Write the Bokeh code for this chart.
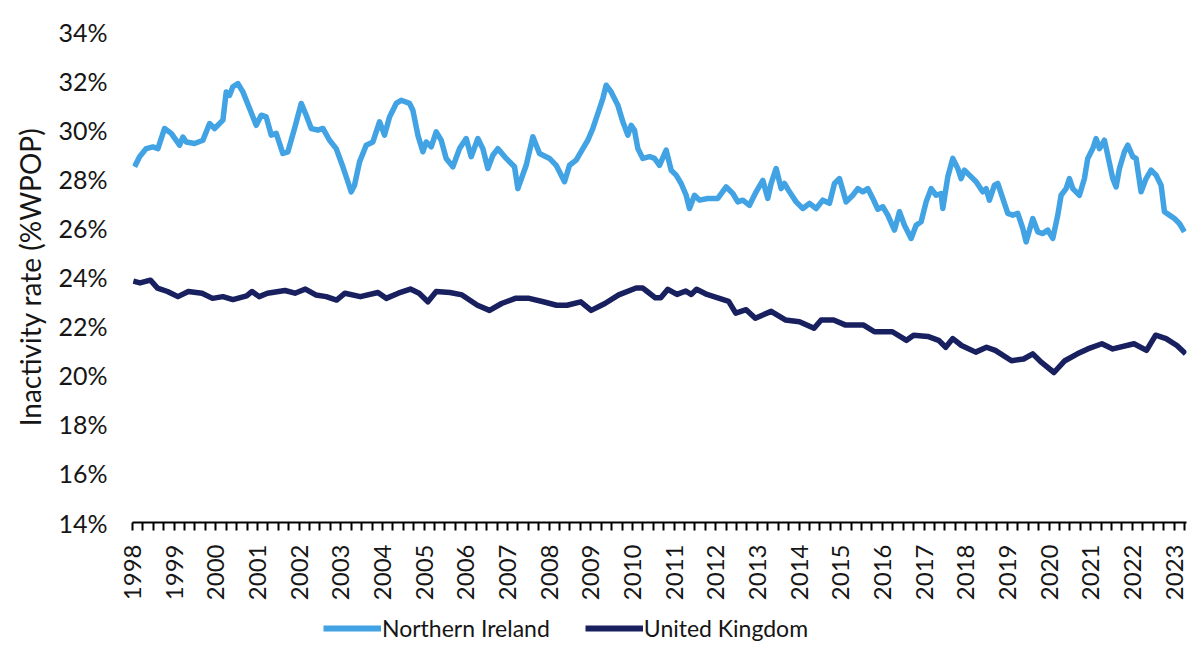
import math
from bokeh.plotting import figure
from bokeh.layouts import column
from bokeh.models import (Range1d, FixedTicker, PrintfTickFormatter, Legend, LegendItem)
from bokeh.embed import file_html
from bokeh.resources import INLINE

# ---- data ----
years = list(range(1998, 2024))
y_ticks = list(range(14, 35, 2))

ni_year = [1998.05, 1998.17, 1998.33, 1998.49, 1998.61, 1998.77, 1998.93, 1999.13, 1999.21, 1999.29,
           1999.49, 1999.69, 1999.85, 1999.97, 2000.17, 2000.25, 2000.33, 2000.41, 2000.53, 2000.65,
           2000.81, 2000.97, 2001.09, 2001.21, 2001.33, 2001.45, 2001.61, 2001.73, 2001.89, 2002.05,
           2002.17, 2002.29, 2002.45, 2002.57, 2002.73, 2002.89, 2003.05, 2003.17, 2003.25, 2003.33,
           2003.45, 2003.61, 2003.77, 2003.93, 2004.05, 2004.17, 2004.33, 2004.45, 2004.65, 2004.73,
           2004.85, 2004.97, 2005.05, 2005.17, 2005.29, 2005.41, 2005.53, 2005.69, 2005.85, 2006.01,
           2006.13, 2006.29, 2006.41, 2006.53, 2006.65, 2006.77, 2006.97, 2007.17, 2007.25, 2007.45,
           2007.61, 2007.77, 2008.01, 2008.17, 2008.37, 2008.49, 2008.65, 2008.81, 2008.93, 2009.05,
           2009.17, 2009.29, 2009.37, 2009.49, 2009.65, 2009.77, 2009.89, 2009.97, 2010.05, 2010.13,
           2010.25, 2010.41, 2010.53, 2010.65, 2010.81, 2010.93, 2011.05, 2011.17, 2011.29, 2011.37,
           2011.49, 2011.61, 2011.81, 2012.05, 2012.25, 2012.41, 2012.53, 2012.65, 2012.81, 2012.97,
           2013.13, 2013.25, 2013.33, 2013.45, 2013.57, 2013.65, 2013.77, 2013.93, 2014.09, 2014.25,
           2014.41, 2014.57, 2014.73, 2014.85, 2014.97, 2015.13, 2015.29, 2015.41, 2015.53, 2015.65,
           2015.77, 2015.89, 2016.01, 2016.13, 2016.29, 2016.41, 2016.53, 2016.69, 2016.81, 2016.93,
           2017.05, 2017.17, 2017.29, 2017.41, 2017.45, 2017.57, 2017.69, 2017.81, 2017.89, 2017.97,
           2018.09, 2018.25, 2018.41, 2018.49, 2018.57, 2018.69, 2018.77, 2018.89, 2019.01, 2019.13,
           2019.25, 2019.37, 2019.45, 2019.61, 2019.73, 2019.85, 2019.97, 2020.09, 2020.21, 2020.29,
           2020.41, 2020.49, 2020.57, 2020.73, 2020.85, 2020.93, 2021.05, 2021.13, 2021.21, 2021.33,
           2021.41, 2021.53, 2021.61, 2021.69, 2021.81, 2021.89, 2022.01, 2022.09, 2022.21, 2022.33,
           2022.45, 2022.57, 2022.69, 2022.77, 2022.89, 2023.01, 2023.13, 2023.25]
ni_rate = [28.49, 28.90, 29.23, 29.30, 29.23, 30.05, 29.85, 29.37, 29.70, 29.50,
           29.44, 29.57, 30.25, 30.05, 30.39, 31.54, 31.40, 31.75, 31.88, 31.54,
           30.86, 30.18, 30.59, 30.52, 29.78, 29.85, 29.03, 29.10, 30.05, 31.07,
           30.59, 30.05, 29.98, 30.05, 29.57, 29.23, 28.49, 27.88, 27.47, 27.74,
           28.69, 29.37, 29.50, 30.32, 29.78, 30.52, 31.07, 31.20, 31.07, 30.79,
           29.78, 29.10, 29.50, 29.30, 29.91, 29.57, 28.83, 28.49, 29.23, 29.64,
           28.90, 29.64, 29.23, 28.42, 28.96, 29.23, 28.83, 28.49, 27.60, 28.55,
           29.71, 29.03, 28.83, 28.55, 27.88, 28.55, 28.76, 29.23, 29.57, 30.05,
           30.66, 31.27, 31.81, 31.54, 31.00, 30.32, 29.78, 30.18, 29.98, 29.23,
           28.83, 28.90, 28.83, 28.55, 29.17, 28.35, 28.15, 27.81, 27.33, 26.79,
           27.33, 27.13, 27.20, 27.20, 27.67, 27.40, 27.06, 27.13, 26.92, 27.47,
           27.94, 27.20, 27.81, 28.42, 27.60, 27.81, 27.47, 27.06, 26.79, 27.00,
           26.79, 27.13, 27.00, 27.81, 28.01, 27.06, 27.33, 27.60, 27.47, 27.60,
           27.20, 26.76, 26.86, 26.52, 25.91, 26.66, 26.11, 25.57, 26.11, 26.25,
           27.06, 27.60, 27.33, 27.40, 26.79, 28.08, 28.83, 28.42, 28.01, 28.35,
           28.15, 27.88, 27.47, 27.60, 27.13, 27.74, 27.81, 27.20, 26.59, 26.52,
           26.59, 25.98, 25.43, 26.38, 25.84, 25.77, 25.91, 25.57, 26.52, 27.33,
           27.60, 28.01, 27.60, 27.33, 28.01, 28.83, 29.23, 29.64, 29.23, 29.57,
           28.96, 28.01, 27.67, 28.42, 29.10, 29.37, 28.90, 28.83, 27.47, 28.01,
           28.35, 28.15, 27.74, 26.66, 26.52, 26.38, 26.18, 25.84]

uk_year = [1998.02, 1998.18, 1998.43, 1998.60, 1998.84, 1999.09, 1999.34, 1999.67, 1999.92, 2000.17,
           2000.41, 2000.74, 2000.87, 2001.04, 2001.24, 2001.66, 2001.90, 2002.15, 2002.40, 2002.65,
           2002.90, 2003.10, 2003.47, 2003.89, 2004.09, 2004.38, 2004.67, 2004.88, 2005.09, 2005.29,
           2005.62, 2005.91, 2006.28, 2006.57, 2006.86, 2007.19, 2007.52, 2007.86, 2008.18, 2008.43,
           2008.76, 2009.01, 2009.34, 2009.67, 2010.09, 2010.25, 2010.34, 2010.55, 2010.68, 2010.85,
           2011.07, 2011.28, 2011.41, 2011.54, 2011.79, 2012.05, 2012.31, 2012.48, 2012.73, 2012.95,
           2013.33, 2013.67, 2014.01, 2014.36, 2014.53, 2014.83, 2015.12, 2015.55, 2015.81, 2016.24,
           2016.58, 2016.75, 2017.09, 2017.35, 2017.52, 2017.69, 2017.90, 2018.24, 2018.50, 2018.71,
           2019.10, 2019.39, 2019.61, 2019.82, 2020.12, 2020.38, 2020.68, 2020.93, 2021.27, 2021.53,
           2022.04, 2022.34, 2022.56, 2022.81, 2023.07, 2023.28]
uk_rate = [23.83, 23.76, 23.87, 23.55, 23.41, 23.20, 23.41, 23.34, 23.13, 23.20,
           23.08, 23.23, 23.41, 23.20, 23.34, 23.45, 23.34, 23.51, 23.27, 23.20,
           23.06, 23.34, 23.20, 23.37, 23.13, 23.34, 23.51, 23.34, 22.99, 23.41,
           23.37, 23.27, 22.85, 22.64, 22.92, 23.13, 23.13, 22.99, 22.85, 22.85,
           22.99, 22.64, 22.92, 23.27, 23.55, 23.55, 23.43, 23.15, 23.15, 23.50,
           23.29, 23.43, 23.29, 23.50, 23.29, 23.15, 23.01, 22.53, 22.67, 22.32,
           22.60, 22.25, 22.18, 21.91, 22.25, 22.25, 22.04, 22.04, 21.77, 21.77,
           21.42, 21.63, 21.58, 21.42, 21.14, 21.49, 21.21, 20.94, 21.14, 21.01,
           20.59, 20.66, 20.87, 20.52, 20.11, 20.59, 20.87, 21.07, 21.28, 21.07,
           21.28, 21.01, 21.63, 21.49, 21.21, 20.87]

series_names = ["Northern Ireland", "United Kingdom"]
series_colors = ["#41A2E4", "#18205F"]

FONT = "Lato"
TXT = "#161616"

p = figure(width=1190, height=610, output_backend="svg", toolbar_location=None,
           x_range=Range1d(1998.0, 2023.3), y_range=Range1d(14, 34),
           min_border_left=132, min_border_right=4, min_border_top=31, min_border_bottom=88)
p.outline_line_color = None
p.xgrid.visible = False
p.ygrid.visible = False
p.background_fill_color = "white"
p.border_fill_color = "white"

r_ni = p.line(ni_year, ni_rate, line_color=series_colors[0], line_width=5.5, line_join="round")
r_uk = p.line(uk_year, uk_rate, line_color=series_colors[1], line_width=5.5, line_join="round")

# x axis
minor = [y + q / 4 for y in range(1998, 2024) for q in range(1, 4)]
p.xaxis.ticker = FixedTicker(ticks=years, minor_ticks=minor)
p.xaxis.formatter = PrintfTickFormatter(format="%d")
p.xaxis.major_label_orientation = math.pi / 2
p.xaxis.axis_line_color = "black"
p.xaxis.axis_line_width = 2
p.xaxis.major_tick_line_color = "black"
p.xaxis.minor_tick_line_color = "black"
p.xaxis.major_tick_line_width = 2
p.xaxis.minor_tick_line_width = 2
p.xaxis.major_tick_in = 0
p.xaxis.major_tick_out = 8
p.xaxis.minor_tick_in = 0
p.xaxis.minor_tick_out = 8
p.xaxis.major_label_standoff = 14
p.xaxis.major_label_text_font = FONT
p.xaxis.major_label_text_font_size = "24px"
p.xaxis.major_label_text_color = TXT

# y axis
p.yaxis.ticker = FixedTicker(ticks=y_ticks, minor_ticks=[])
p.yaxis.formatter = PrintfTickFormatter(format="%d%%")
p.yaxis.axis_line_color = None
p.yaxis.major_tick_line_color = None
p.yaxis.minor_tick_line_color = None
p.yaxis.major_tick_out = 0
p.yaxis.major_tick_in = 0
p.yaxis.minor_tick_out = 0
p.yaxis.minor_tick_in = 0
p.yaxis.major_label_standoff = 25
p.yaxis.major_label_text_font = FONT
p.yaxis.major_label_text_font_size = "25px"
p.yaxis.major_label_text_color = TXT
p.yaxis.axis_label = "Inactivity rate (%WPOP)"
p.yaxis.axis_label_text_font = FONT
p.yaxis.axis_label_text_font_size = "28px"
p.yaxis.axis_label_text_font_style = "normal"
p.yaxis.axis_label_text_color = TXT
p.yaxis.axis_label_standoff = 8

# legend strip below the chart (proxy lines are outside its visible range)
lg = figure(width=1190, height=33, output_backend="svg", toolbar_location=None,
            x_range=Range1d(0, 1), y_range=Range1d(0, 1),
            x_axis_type=None, y_axis_type=None, min_border=0)
lg.outline_line_color = None
lg.xgrid.visible = False
lg.ygrid.visible = False
lg_ni = lg.line(ni_year, ni_rate, line_color=series_colors[0], line_width=6)
lg_uk = lg.line(uk_year, uk_rate, line_color=series_colors[1], line_width=6)
legend = Legend(items=[LegendItem(label=series_names[0], renderers=[lg_ni]),
                       LegendItem(label=series_names[1], renderers=[lg_uk])],
                orientation="horizontal", location=(191, 1),
                glyph_width=58, glyph_height=28, label_height=28, label_standoff=1, spacing=35,
                padding=0, margin=0, border_line_alpha=0, background_fill_alpha=0,
                label_text_font=FONT, label_text_font_size="23px", label_text_color=TXT)
lg.add_layout(legend)

open("out.html", "w").write(file_html(column(p, lg, spacing=0), INLINE))
